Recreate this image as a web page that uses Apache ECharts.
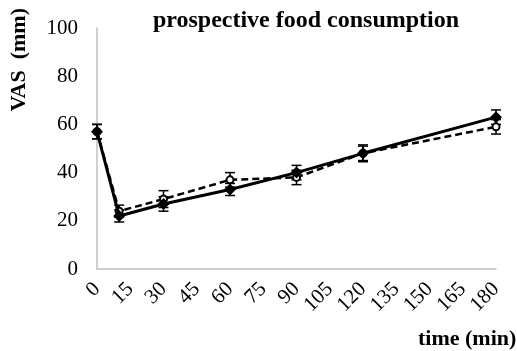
<!DOCTYPE html>
<html>
<head>
<meta charset="utf-8">
<script src="https://cdn.jsdelivr.net/npm/echarts@6/dist/echarts.min.js"></script>
<style>
  html, body { margin: 0; padding: 0; background: #fff; }
  #chart { width: 517px; height: 351px; }
</style>
</head>
<body>
<div id="chart"></div>
<script>
// Sampling times (min)
var times = [0, 10, 30, 60, 90, 120, 180];
// Condition A (solid line, filled diamonds)
var meanA = [57, 22, 27, 33, 40, 48, 63];
var errA  = [3, 2.5, 3, 2.5, 3, 3.5, 3];
// Condition B (dashed line, open circles)
var meanB = [57, 24, 29, 37, 38, 48, 59];
var errB  = [3, 2.5, 3.5, 3, 3, 3, 3];
// Axis ticks
var xTicks = [0, 15, 30, 45, 60, 75, 90, 105, 120, 135, 150, 165, 180];
var yTicks = [0, 20, 40, 60, 80, 100];

var serif = '"Liberation Serif", "Times New Roman", serif';

function pairs(xs, ys) {
  return xs.map(function (x, i) { return [x, ys[i]]; });
}
function errData(xs, ys, es) {
  return xs.map(function (x, i) { return [x, ys[i] - es[i], ys[i] + es[i]]; });
}
function renderErr(params, api) {
  var x = api.value(0);
  var lo = api.coord([x, api.value(1)]);
  var hi = api.coord([x, api.value(2)]);
  var hw = 5;
  var st = { stroke: '#000', lineWidth: 1.5 };
  return {
    type: 'group',
    children: [
      { type: 'line', shape: { x1: lo[0], y1: lo[1], x2: hi[0], y2: hi[1] }, style: st },
      { type: 'line', shape: { x1: lo[0] - hw, y1: lo[1], x2: lo[0] + hw, y2: lo[1] }, style: st },
      { type: 'line', shape: { x1: hi[0] - hw, y1: hi[1], x2: hi[0] + hw, y2: hi[1] }, style: st }
    ]
  };
}

var chart = echarts.init(document.getElementById('chart'), null, { renderer: 'canvas' });
chart.setOption({
  animation: false,
  backgroundColor: '#fff',
  title: {
    text: 'prospective food consumption',
    left: 301, top: 4, textAlign: 'center',
    textStyle: { fontFamily: serif, fontWeight: 'bold', fontSize: 24, color: '#000' }
  },
  grid: { left: 97, right: 21, top: 28, bottom: 82 },
  xAxis: {
    type: 'value', min: 0, max: 180, interval: 15,
    axisLine: { show: true, lineStyle: { color: '#c0c0c0', width: 1.5 } },
    axisTick: { show: false },
    splitLine: { show: false },
    axisLabel: {
      rotate: 45, margin: 17, color: '#000', fontFamily: serif, fontSize: 21,
      formatter: function (v) { return xTicks.indexOf(v) >= 0 ? String(v) : ''; }
    }
  },
  yAxis: {
    type: 'value', min: 0, max: 100, interval: 20,
    axisLine: { show: true, lineStyle: { color: '#c0c0c0', width: 1.5 } },
    axisTick: { show: false },
    splitLine: { show: false },
    axisLabel: {
      margin: 19, color: '#000', fontFamily: serif, fontSize: 21,
      formatter: function (v) { return yTicks.indexOf(v) >= 0 ? String(v) : ''; }
    }
  },
  graphic: [
    {
      type: 'text', left: 8, top: 8, rotation: Math.PI / 2,
      style: { text: 'VAS  (mm)', font: 'bold 22px ' + serif, fill: '#000' }
    },
    {
      type: 'text', left: 418, top: 328,
      style: { text: 'time (min)', font: 'bold 22px ' + serif, fill: '#000' }
    }
  ],
  series: [
    {
      type: 'custom', renderItem: renderErr, data: errData(times, meanB, errB),
      z: 3, silent: true
    },
    {
      type: 'custom', renderItem: renderErr, data: errData(times, meanA, errA),
      z: 3, silent: true
    },
    {
      type: 'line', data: pairs(times, meanB), z: 4,
      symbol: 'emptyCircle', symbolSize: 7,
      lineStyle: { color: '#000', width: 2.5, type: [7, 4] },
      itemStyle: { color: '#000', borderColor: '#000', borderWidth: 1.2 }
    },
    {
      type: 'line', data: pairs(times, meanA), z: 5,
      symbol: 'diamond', symbolSize: 12,
      lineStyle: { color: '#000', width: 3 },
      itemStyle: { color: '#000' }
    }
  ]
});
</script>
</body>
</html>
